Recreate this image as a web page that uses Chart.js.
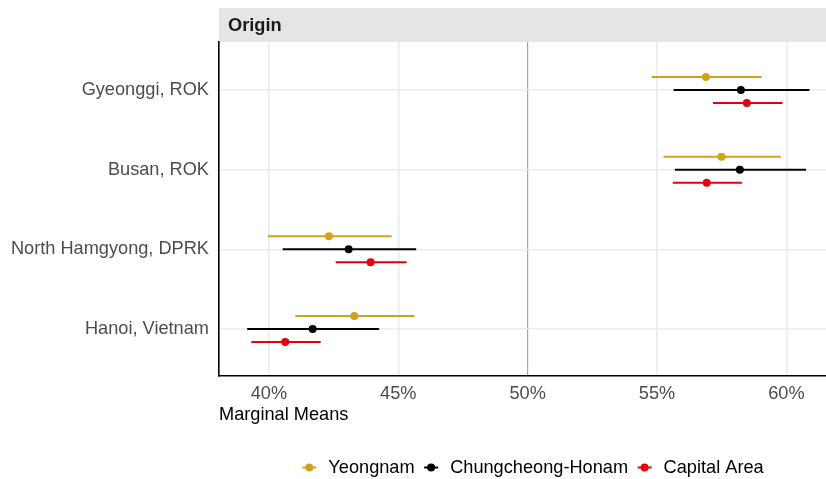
<!DOCTYPE html>
<html>
<head>
<meta charset="utf-8">
<script src="https://cdn.jsdelivr.net/npm/chart.js@4/dist/chart.umd.min.js"></script>
<style>
  html, body { margin: 0; padding: 0; background: #ffffff; }
  #wrap { width: 826px; height: 479px; position: relative; }
</style>
</head>
<body>
<div id="wrap"><canvas id="c" width="826" height="479"></canvas></div>
<script>
// ---- data ----
const categories = ['Gyeonggi, ROK', 'Busan, ROK', 'North Hamgyong, DPRK', 'Hanoi, Vietnam'];
const seriesNames = ['Yeongnam', 'Chungcheong-Honam', 'Capital Area'];
const yeongnamEst = [56.89, 57.49, 42.32, 43.30];
const yeongnamLo  = [54.79, 55.25, 39.96, 41.02];
const yeongnamHi  = [59.04, 59.78, 44.74, 45.63];
const chungEst    = [58.24, 58.20, 43.08, 41.69];
const chungLo     = [55.64, 55.69, 40.53, 39.16];
const chungHi     = [60.89, 60.76, 45.69, 44.26];
const capitalEst  = [58.47, 56.92, 43.93, 40.63];
const capitalLo   = [57.16, 55.61, 42.58, 39.32];
const capitalHi   = [59.85, 58.28, 45.32, 42.00];
const xTicks = [40, 45, 50, 55, 60];
const refLine = 50;
const facetTitle = 'Origin';
const xTitle = 'Marginal Means';

// ---- styling ----
const colors = ['#D1A21B', '#000000', '#E6000F'];
const dodge = [-0.163, 0, 0.163];
const FONT = "'Liberation Sans', Arial, sans-serif";
const FS = 18.2;

const series = [
  { est: yeongnamEst, lo: yeongnamLo, hi: yeongnamHi },
  { est: chungEst, lo: chungLo, hi: chungHi },
  { est: capitalEst, lo: capitalLo, hi: capitalHi }
];

const datasets = [];
series.forEach((s, si) => {
  const seg = [];
  categories.forEach((c, i) => {
    seg.push({ x: s.lo[i], y: i + dodge[si] });
    seg.push({ x: s.hi[i], y: i + dodge[si] });
    seg.push({ x: null, y: null });
  });
  datasets.push({
    type: 'scatter', label: seriesNames[si] + ' CI', data: seg, showLine: true, spanGaps: false,
    borderColor: colors[si], borderWidth: 2, pointRadius: 0, pointHoverRadius: 0
  });
});
series.forEach((s, si) => {
  datasets.push({
    type: 'scatter', label: seriesNames[si],
    data: categories.map((c, i) => ({ x: s.est[i], y: i + dodge[si] })),
    backgroundColor: colors[si], borderColor: colors[si], pointRadius: 4, borderWidth: 0
  });
});

const decor = {
  id: 'decor',
  beforeDraw(chart) {
    const ctx = chart.ctx, a = chart.chartArea;
    ctx.save();
    ctx.fillStyle = '#e5e5e5';
    ctx.fillRect(a.left, 8, a.right - a.left, a.top - 8);
    ctx.fillStyle = '#1a1a1a';
    ctx.font = 'bold ' + FS + 'px ' + FONT;
    ctx.textBaseline = 'middle';
    ctx.textAlign = 'left';
    ctx.fillText(facetTitle, a.left + 9, 26);
    ctx.restore();
  },
  afterDraw(chart) {
    const ctx = chart.ctx;
    ctx.save();
    ctx.font = FS + 'px ' + FONT;
    ctx.textBaseline = 'middle';
    ctx.textAlign = 'left';
    const keyW = 14, textOff = 26, itemGap = 9.5;
    const widths = seriesNames.map(n => ctx.measureText(n).width);
    const total = widths.reduce((p, w) => p + textOff + w, 0) + itemGap * (seriesNames.length - 1);
    let x = 533 - total / 2;
    const y = 467.5;
    seriesNames.forEach((n, i) => {
      ctx.strokeStyle = colors[i];
      ctx.lineWidth = 2;
      ctx.beginPath(); ctx.moveTo(x, y); ctx.lineTo(x + keyW, y); ctx.stroke();
      ctx.fillStyle = colors[i];
      ctx.beginPath(); ctx.arc(x + keyW / 2, y, 4, 0, Math.PI * 2); ctx.fill();
      ctx.fillStyle = '#000000';
      ctx.fillText(n, x + textOff, y);
      x += textOff + widths[i] + itemGap;
    });
    ctx.restore();
  }
};

new Chart(document.getElementById('c'), {
  type: 'scatter',
  data: { datasets },
  options: {
    responsive: false,
    devicePixelRatio: 1,
    animation: false,
    layout: { autoPadding: false, padding: { top: 42, right: 0, bottom: 53, left: 0 } },
    plugins: { legend: { display: false }, tooltip: { enabled: false } },
    scales: {
      x: {
        type: 'linear', min: 38.07, max: 61.53,
        afterBuildTicks: s => { s.ticks = xTicks.map(v => ({ value: v })); },
        afterFit: s => { s.height = 50; s.paddingLeft = 0; s.paddingRight = 0; },
        ticks: {
          callback: v => v + '%', color: '#4d4d4d', padding: 7.5,
          font: { family: FONT, size: FS }, maxRotation: 0
        },
        grid: {
          drawTicks: false,
          color: c => (c.tick && c.tick.value === refLine) ? '#a6a6a6' : '#ebebeb',
          lineWidth: c => (c.tick && c.tick.value === refLine) ? 1.2 : 1.6
        },
        border: { display: true, color: '#000000', width: 1.6 },
        title: {
          display: true, text: xTitle, align: 'start', color: '#000000',
          font: { family: FONT, size: FS }, padding: { top: 0, bottom: 0 }
        }
      },
      y: {
        type: 'linear', min: -0.6025, max: 3.59, reverse: true,
        afterBuildTicks: s => { s.ticks = categories.map((c, i) => ({ value: i })); },
        afterFit: s => { s.width = 219; s.paddingTop = 0; s.paddingBottom = 0; },
        ticks: {
          callback: v => categories[v], color: '#4d4d4d', padding: 10,
          font: { family: FONT, size: FS }
        },
        grid: { drawTicks: false, color: '#ebebeb', lineWidth: 1.6 },
        border: { display: true, color: '#000000', width: 1.6 }
      }
    }
  },
  plugins: [decor]
});
</script>
</body>
</html>
